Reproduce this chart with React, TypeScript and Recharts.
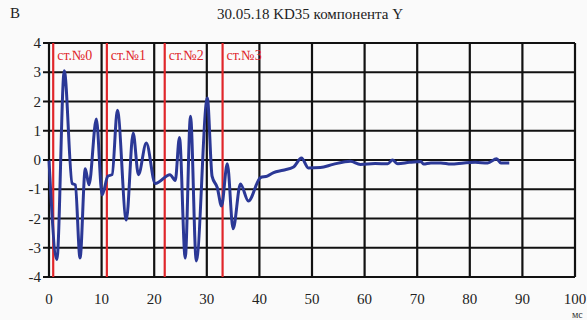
import {
  LineChart,
  Line,
  XAxis,
  YAxis,
  CartesianGrid,
  ReferenceLine,
} from 'recharts';

// time, ms
const times = [
  0, 1.5, 2.9, 4.4, 5.0, 5.9, 6.9, 7.6, 9.0, 10.1, 11.2, 12.0, 13.0, 14.7, 16.0, 17.0, 18.5, 20.2,
  23.0, 24.0, 24.8, 25.9, 26.9, 28.0, 30.1, 31.0, 32.0, 32.8, 33.9, 35.0, 36.4, 37.9, 40.2, 41.5,
  42.7, 44.5, 46.5, 48.0, 49.3, 51.6, 54.0, 57.3, 59.2, 62.0, 64.4, 65.3, 66.3, 68.5, 70.7, 71.2,
  72.6, 74.5, 76.4, 78.9, 81.0, 83.4, 85.1, 85.9, 87.5,
];
// component Y, V
const valuesY = [
  0, -3.4, 3.05, -0.8, -0.85, -3.35, -0.3, -0.85, 1.4, -1.2, -0.55, -0.5, 1.7, -2.05, 0.92, -0.5, 0.58, -0.8,
  -0.5, -0.7, 0.77, -3.35, 1.5, -3.45, 2.12, -0.55, -0.95, -1.57, -0.13, -2.35, -0.82, -1.4, -0.6, -0.55,
  -0.43, -0.35, -0.24, 0.07, -0.27, -0.26, -0.15, -0.04, -0.15, -0.12, -0.13, 0, -0.13, -0.08, -0.05, -0.14,
  -0.1, -0.1, -0.14, -0.1, -0.08, -0.1, 0.04, -0.1, -0.1,
];

// stage markers (red lines)
const stagePositions = [0.8, 11, 22, 33];
const stageLabels = ['ст.№0', 'ст.№1', 'ст.№2', 'ст.№3'];

const xTicks = [0, 10, 20, 30, 40, 50, 60, 70, 80, 90, 100];
const yTicks = [-4, -3, -2, -1, 0, 1, 2, 3, 4];

const gridColor = '#111';

const css = `
body { margin: 0; background: #fafafa; }
.chart-box, .chart-box svg, .chart-box text { font-family: 'Liberation Serif', 'Times New Roman', serif; }
`;

export default function App() {
  const data = times.map((t, i) => ({ t, y: valuesY[i] }));

  return (
    <div className="chart-box" style={{ width: 587, height: 320, position: 'relative' }}>
      <style>{css}</style>
      <div style={{ position: 'absolute', left: 10, top: 5, fontSize: 15, color: '#222' }}>В</div>
      <div
        style={{
          position: 'absolute',
          left: 0,
          width: 620,
          top: 6,
          textAlign: 'center',
          fontSize: 15,
          color: '#222',
        }}
      >
        30.05.18 KD35 компонента Y
      </div>

      <LineChart
        width={587}
        height={320}
        data={data}
        margin={{ top: 43, right: 12, bottom: 0, left: 0 }}
      >
        <CartesianGrid stroke={gridColor} strokeWidth={2.2} />
        <XAxis
          dataKey="t"
          type="number"
          domain={[0, 100]}
          ticks={xTicks}
          height={43}
          axisLine={false}
          tickLine={false}
          tickSize={0}
          tickMargin={0}
          tick={(p: any) => (
            <text x={p.x} y={p.y + 27} textAnchor="middle" fill="#222" fontSize={15}>
              {p.payload.value}
            </text>
          )}
        />
        <YAxis
          type="number"
          domain={[-4, 4]}
          ticks={yTicks}
          width={49}
          axisLine={false}
          tickSize={6}
          tickMargin={2}
          tickLine={{ stroke: gridColor, strokeWidth: 2 }}
          tick={(p: any) => (
            <text x={p.x} y={p.y + 5} textAnchor="end" fill="#222" fontSize={15}>
              {p.payload.value}
            </text>
          )}
        />
        {stagePositions.map((p, i) => (
          <ReferenceLine
            key={'s' + p}
            x={p}
            stroke="#e0262a"
            strokeWidth={2.2}
            label={(props: any) => {
              const vb = props.viewBox || {};
              return (
                <text x={vb.x + 4} y={vb.y + 17} fill="#e0262a" fontSize={14}>
                  {stageLabels[i]}
                </text>
              );
            }}
          />
        ))}
        <Line
          type="monotone"
          dataKey="y"
          stroke="#2b3896"
          strokeWidth={3}
          dot={false}
          isAnimationActive={false}
        />
      </LineChart>
      <div
        style={{
          position: 'absolute',
          left: 572,
          top: 309,
          fontSize: 10,
          lineHeight: '11px',
          color: '#333',
        }}
      >
        мс
      </div>
    </div>
  );
}
